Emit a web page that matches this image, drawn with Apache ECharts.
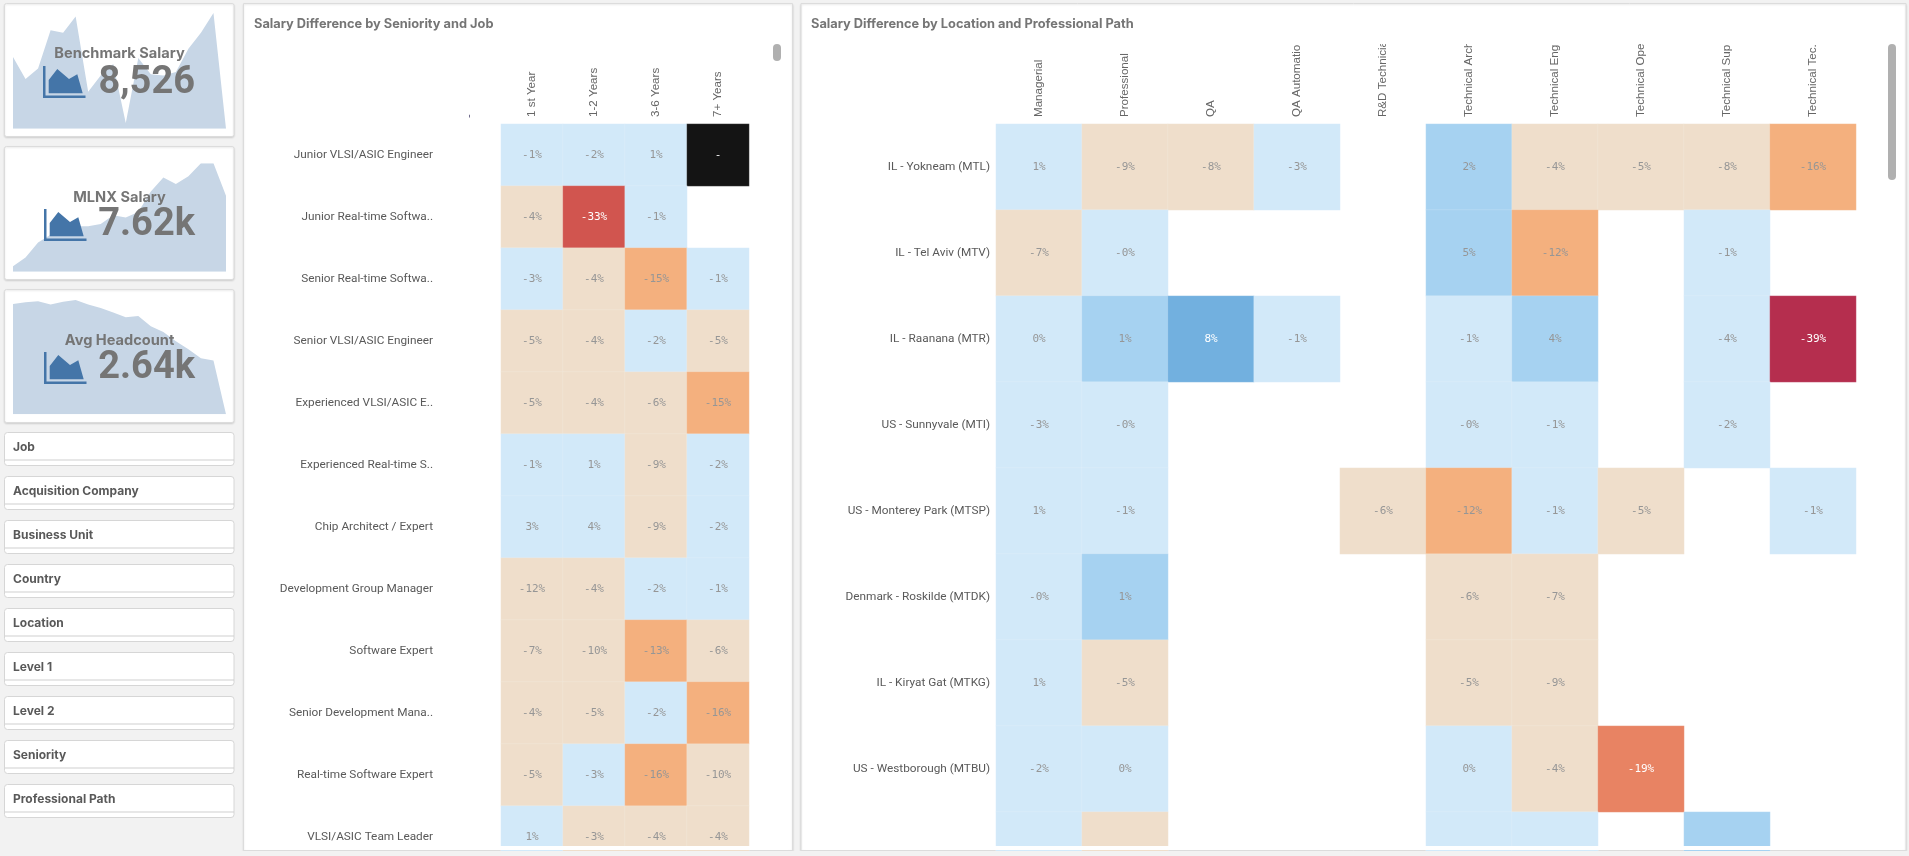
<!DOCTYPE html>
<html>
<head>
<meta charset="utf-8">
<title>Salary Difference</title>
<script src="https://cdn.jsdelivr.net/npm/echarts@6/dist/echarts.min.js"></script>
<style>
html, body { margin: 0; padding: 0; background: #f2f2f2; overflow: hidden; }
#report { width: 1909px; height: 856px; }
</style>
</head>
<body>
<div id="report"></div>
<script>
// kpi cards, spark values are read as percent of the card's own peak
var kpiNames = ['Benchmark Salary', 'MLNX Salary', 'Avg Headcount'];
var kpiValues = ['8,526', '7.62k', '2.64k'];
var benchmarkSpark = [62, 43, 52, 85, 83, 97, 32, 46, 56, 5, 61, 47, 46, 49, 69, 83, 100, 0];
var salarySpark = [5, 13, 27, 34, 38, 42, 42, 44, 52, 50, 55, 74, 87, 81, 88, 100, 100, 70];
var headcountSpark = [96.5, 98, 99, 96, 98.5, 100, 96, 93, 89, 85, 86, 77, 72, 64, 57, 49, 47, 0];
var sparkMonths = ['1', '2', '3', '4', '5', '6', '7', '8', '9', '10', '11', '12', '13', '14', '15', '16', '17', '18'];

var filterNames = ['Job', 'Acquisition Company', 'Business Unit', 'Country', 'Location', 'Level 1', 'Level 2', 'Seniority', 'Professional Path'];

// seniority / job table. null = "-" when the row has a tone for it
var seniorityCols = ['1 st Year', '1-2 Years', '3-6 Years', '7+ Years'];
var jobRows = ['Junior VLSI/ASIC Engineer', 'Junior Real-time Softwa..', 'Senior Real-time Softwa..', 'Senior VLSI/ASIC Engineer', 'Experienced VLSI/ASIC E..', 'Experienced Real-time S..', 'Chip Architect / Expert', 'Development Group Manager', 'Software Expert', 'Senior Development Mana..', 'Real-time Software Expert', 'VLSI/ASIC Team Leader'];
var jobValues = [
	[-1, -2, 1, null],
	[-4, -33, -1, null],
	[-3, -4, -15, -1],
	[-5, -4, -2, -5],
	[-5, -4, -6, -15],
	[-1, 1, -9, -2],
	[3, 4, -9, -2],
	[-12, -4, -2, -1],
	[-7, -10, -13, -6],
	[-4, -5, -2, -16],
	[-5, -3, -16, -10],
	[1, -3, -4, -4]
];
var jobTones = [
	[0, 0, 0, 8],
	[3, 6, 0, null],
	[0, 3, 4, 0],
	[3, 3, 0, 3],
	[3, 3, 3, 4],
	[0, 0, 3, 0],
	[0, 0, 3, 0],
	[3, 3, 0, 0],
	[3, 3, 4, 3],
	[3, 3, 0, 4],
	[3, 0, 4, 3],
	[0, 3, 3, 3]
];

// location / path table. last row is cut by the panel, its values are a guess
var pathCols = ['Managerial', 'Professional', 'QA', 'QA Automatio', 'R&D Technicia', 'Technical Arch', 'Technical Eng', 'Technical Ope', 'Technical Sup', 'Technical Tec.'];
var locationRows = ['IL - Yokneam (MTL)', 'IL - Tel Aviv (MTV)', 'IL - Raanana (MTR)', 'US - Sunnyvale (MTI)', 'US - Monterey Park (MTSP)', 'Denmark - Roskilde (MTDK)', 'IL - Kiryat Gat (MTKG)', 'US - Westborough (MTBU)', ''];
var locationValues = [
	[1, -9, -8, -3, null, 2, -4, -5, -8, -16],
	[-7, -0, null, null, null, 5, -12, null, -1, null],
	[0, 1, 8, -1, null, -1, 4, null, -4, -39],
	[-3, -0, null, null, null, -0, -1, null, -2, null],
	[1, -1, null, null, -6, -12, -1, -5, null, -1],
	[-0, 1, null, null, null, -6, -7, null, null, null],
	[1, -5, null, null, null, -5, -9, null, null, null],
	[-2, 0, null, null, null, 0, -4, -19, null, null],
	[-1, -5, null, null, null, -1, -1, null, 3, null]
];
var locationTones = [
	[0, 3, 3, 0, null, 1, 3, 3, 3, 4],
	[3, 0, null, null, null, 1, 4, null, 0, null],
	[0, 1, 2, 0, null, 0, 1, null, 0, 7],
	[0, 0, null, null, null, 0, 0, null, 0, null],
	[0, 0, null, null, 3, 4, 0, 3, null, 0],
	[0, 1, null, null, null, 3, 3, null, null, null],
	[0, 3, null, null, null, 3, 3, null, null, null],
	[0, 0, null, null, null, 0, 3, 5, null, null],
	[0, 3, null, null, null, 0, 0, null, 1, null]
];

var toneColors = ['#d2e9f9', '#a6d2f1', '#72b0df', '#efdecb', '#f4b07e', '#e88363', '#d1554f', '#b52e4e', '#141414'];
var whiteTextTones = [2, 5, 6, 7, 8];

var textFont = 'Roboto';
var boldFont = 'Inter';

function formatPct(v) {
	if (v === null) return '-';
	if (Object.is(v, -0)) return '-0%';
	return v + '%';
}

function cellData(values, tones, rows) {
	var out = [];
	for (var r = 0; r < tones.length; r++) {
		for (var c = 0; c < tones[r].length; c++) {
			if (tones[r][c] === null) continue;
			out.push({
				value: [c, r, tones[r][c]],
				name: formatPct(values[r][c]),
				itemStyle: { color: toneColors[tones[r][c]] },
				label: {
					show: rows[r] !== '',
					color: whiteTextTones.indexOf(tones[r][c]) >= 0 ? '#ffffff' : '#969696'
				}
			});
		}
	}
	return out;
}

function panel(x, y, w, h, r) {
	return {
		type: 'rect', z: -1,
		shape: { x: x, y: y, width: w, height: h, r: r || 0 },
		style: { fill: '#ffffff', stroke: '#dcdcdc', lineWidth: 1, shadowBlur: 2, shadowColor: 'rgba(0,0,0,0.12)', shadowOffsetY: 1 }
	};
}

function text(str, x, y, size, weight, color, align, family) {
	return {
		type: 'text', z: 50,
		style: {
			text: str, x: x, y: y, fill: color, align: align || 'left', verticalAlign: 'middle',
			font: (weight || 'normal') + ' ' + size + 'px ' + (family || boldFont)
		}
	};
}

function kpiIcon(x, y) {
	return {
		type: 'group', x: x, y: y, z: 40,
		children: [
			{ type: 'polygon', z: 40, shape: { points: [[5.7, 27.3], [5.7, 14], [14.3, 3], [26, 13], [34.3, 8.3], [39.7, 27.3]] }, style: { fill: '#4475a8' } },
			{ type: 'rect', z: 40, shape: { x: 0, y: 0, width: 2.5, height: 32 }, style: { fill: '#4475a8' } },
			{ type: 'rect', z: 40, shape: { x: 0, y: 29.5, width: 42.5, height: 2.5 }, style: { fill: '#4475a8' } }
		]
	};
}

var graphics = [];
var grids = [];
var xAxes = [];
var yAxes = [];
var series = [];

// kpi cards
var cardTops = [4, 147, 290];
var sparkTops = [13, 163.3, 300];
var sparkHeights = [115.7, 108.4, 114.3];
var sparks = [benchmarkSpark, salarySpark, headcountSpark];
var labelY = [54, 197.7, 340.3];
var numberY = [83.5, 225.8, 368.5];
var iconY = [66, 209, 352];
for (var i = 0; i < 3; i++) {
	graphics.push(panel(4.5, cardTops[i] - 0.5, 229.5, 133, 2));
	grids.push({ left: 13, width: 213, top: sparkTops[i], height: sparkHeights[i], outerBoundsMode: 'none' });
	xAxes.push({ type: 'category', gridIndex: i, show: false, boundaryGap: false, data: sparkMonths });
	yAxes.push({ type: 'value', gridIndex: i, show: false, min: 0, max: 100 });
	series.push({
		type: 'line', xAxisIndex: i, yAxisIndex: i, data: sparks[i], symbol: 'none', silent: true,
		lineStyle: { width: 0 }, areaStyle: { color: '#c7d6e6', opacity: 1 }
	});
	graphics.push(text(kpiNames[i], 119.5, labelY[i], 14.6, 'bold', '#757575', 'center'));
	graphics.push(text(kpiValues[i], 195, numberY[i], 38, 'bold', '#757575', 'right', 'Roboto'));
	graphics.push(kpiIcon(i === 0 ? 43 : 44, iconY[i]));
}

// filter panes
for (var f = 0; f < filterNames.length; f++) {
	var fy = 432.5 + f * 44;
	graphics.push({ type: 'rect', z: -1, shape: { x: 4.5, y: fy, width: 229.5, height: 33, r: 3 }, style: { fill: '#ffffff', stroke: '#d6d6d6', lineWidth: 1 } });
	graphics.push({ type: 'line', z: 1, shape: { x1: 5, y1: fy + 27.5, x2: 234, y2: fy + 27.5 }, style: { stroke: '#cfcfcf', lineWidth: 1 } });
	graphics.push(text(filterNames[f], 13, fy + 14.5, 12, 'bold', '#595959'));
}

// tables
function addTable(left, top, cellW, cellH, cols, rows, values, tones, labelMargin) {
	var idx = grids.length;
	grids.push({ left: left, top: top, width: cellW * cols.length, height: cellH * rows.length, outerBoundsMode: 'none' });
	xAxes.push({
		type: 'category', gridIndex: idx, position: 'top', data: cols,
		axisLine: { show: false }, axisTick: { show: false }, splitLine: { show: false },
		axisLabel: { rotate: -90, interval: 0, margin: 7, fontFamily: 'Liberation Sans', fontSize: 11.6, color: '#666666' }
	});
	yAxes.push({
		type: 'category', gridIndex: idx, inverse: true, data: rows,
		axisLine: { show: false }, axisTick: { show: false }, splitLine: { show: false },
		axisLabel: { interval: 0, margin: labelMargin, fontFamily: textFont, fontSize: 11.8, color: '#595959', padding: [4, 0, 0, 0] }
	});
	series.push({
		type: 'heatmap', xAxisIndex: idx, yAxisIndex: idx, data: cellData(values, tones, rows), silent: true,
		itemStyle: { borderColor: 'rgba(255,255,255,0.15)', borderWidth: 1 },
		label: { show: true, formatter: '{b}', fontFamily: 'DejaVu Sans Mono', fontSize: 11 }
	});
}

graphics.push(panel(243.5, 3.5, 549, 847));
graphics.push(panel(801, 3.5, 1105, 847));
addTable(501, 124, 62, 62, seniorityCols, jobRows, jobValues, jobTones, 68);
addTable(996, 124, 86, 86, pathCols, locationRows, locationValues, locationTones, 6);

// small dash of the empty header, scrollbars
graphics.push({
	type: 'text', z: 50, x: 470, y: 116, rotation: Math.PI / 2,
	style: { text: '-', fill: '#6f6a8a', font: '12px Roboto', align: 'center', verticalAlign: 'middle' }
});
graphics.push({ type: 'rect', z: 60, shape: { x: 773, y: 44, width: 8, height: 17, r: 4 }, style: { fill: '#b0b0b0' } });
graphics.push({ type: 'rect', z: 60, shape: { x: 1888, y: 44, width: 8, height: 136, r: 4 }, style: { fill: '#b0b0b0' } });

// tables scroll inside the panels, so cover what runs past the edges
graphics.push({ type: 'rect', z: 30, shape: { x: 985, y: 32, width: 880, height: 12 }, style: { fill: '#ffffff' } });
graphics.push({ type: 'rect', z: 30, shape: { x: 250, y: 846, width: 538, height: 4 }, style: { fill: '#ffffff' } });
graphics.push({ type: 'rect', z: 30, shape: { x: 806, y: 846, width: 1096, height: 4 }, style: { fill: '#ffffff' } });
graphics.push({ type: 'rect', z: 30, shape: { x: 240, y: 851, width: 1669, height: 5 }, style: { fill: '#f2f2f2' } });

var myChart = echarts.init(document.getElementById('report'));
myChart.setOption({
	animation: false,
	backgroundColor: '#f2f2f2',
	title: [
		{ text: 'Salary Difference by Seniority and Job', left: 254, top: 18, padding: 0, textStyle: { fontFamily: boldFont, fontSize: 12.8, fontWeight: 'bold', color: '#757575' } },
		{ text: 'Salary Difference by Location and Professional Path', left: 811, top: 18, padding: 0, textStyle: { fontFamily: boldFont, fontSize: 12.8, fontWeight: 'bold', color: '#757575' } }
	],
	grid: grids,
	xAxis: xAxes,
	yAxis: yAxes,
	series: series,
	graphic: { elements: graphics }
});
</script>
</body>
</html>
